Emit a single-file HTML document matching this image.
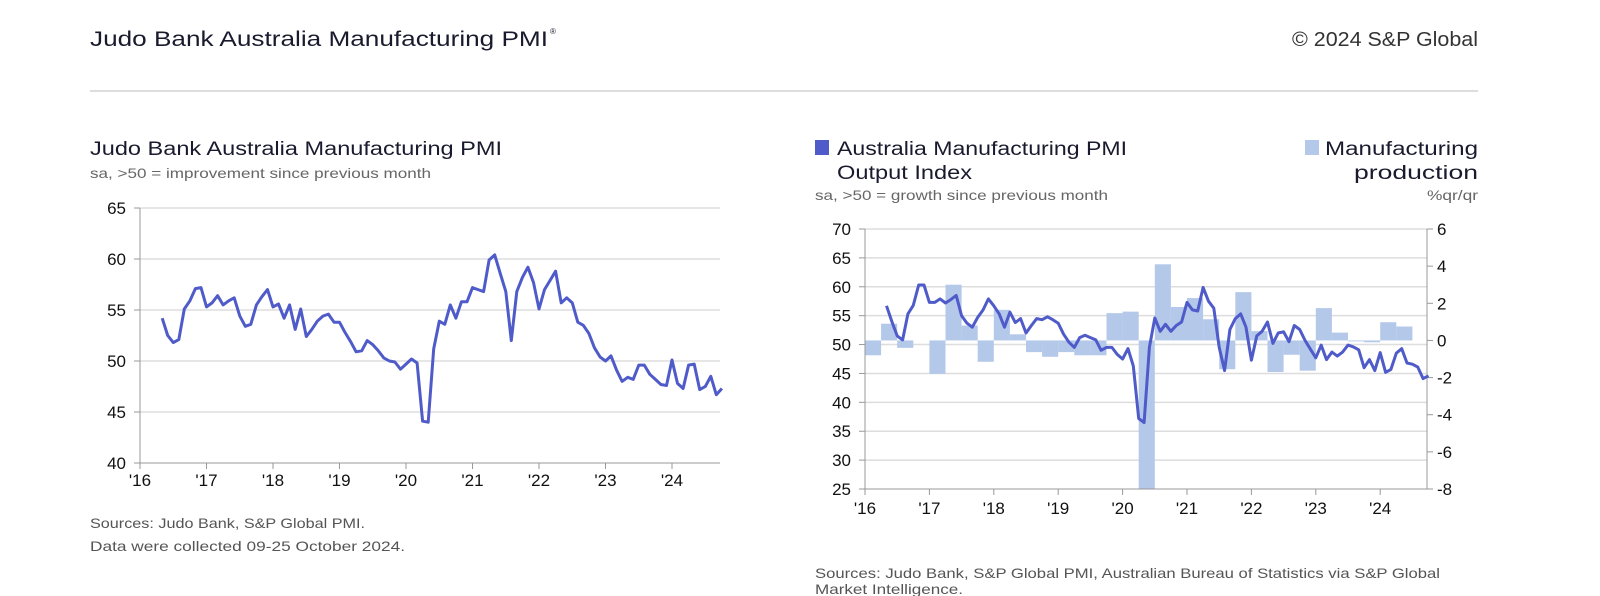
<!DOCTYPE html>
<html><head><meta charset="utf-8"><style>
body{margin:0;background:#fff;}
svg{display:block;font-family:"Liberation Sans",sans-serif;}
</style></head><body>
<svg id="s" width="1600" height="596" xmlns="http://www.w3.org/2000/svg">
<rect width="1600" height="596" fill="#fff"/>
<text x="90" y="46" font-size="21" fill="#1a1a2e" textLength="458" lengthAdjust="spacingAndGlyphs">Judo Bank Australia Manufacturing PMI</text>
<text x="550" y="34" font-size="8" fill="#1a1a2e">®</text>
<text x="1292" y="46" font-size="20" fill="#333" textLength="186" lengthAdjust="spacingAndGlyphs">© 2024 S&amp;P Global</text>
<line x1="90" y1="91" x2="1478" y2="91" stroke="#bbb" stroke-width="1"/>
<text x="90" y="155" font-size="19" fill="#1a1a2e" textLength="412" lengthAdjust="spacingAndGlyphs">Judo Bank Australia Manufacturing PMI</text>
<text x="90" y="178" font-size="14" fill="#666" textLength="341" lengthAdjust="spacingAndGlyphs">sa, &gt;50 = improvement since previous month</text>
<text x="90" y="528" font-size="14" fill="#555" textLength="275" lengthAdjust="spacingAndGlyphs">Sources: Judo Bank, S&amp;P Global PMI.</text>
<text x="90" y="551" font-size="14" fill="#555" textLength="315" lengthAdjust="spacingAndGlyphs">Data were collected 09-25 October 2024.</text>
<rect x="815" y="140" width="14" height="15" fill="#4f5bc9"/>
<text x="837" y="155" font-size="19" fill="#1a1a2e" textLength="290" lengthAdjust="spacingAndGlyphs">Australia Manufacturing PMI</text>
<text x="837" y="179" font-size="19" fill="#1a1a2e" textLength="135" lengthAdjust="spacingAndGlyphs">Output Index</text>
<rect x="1305" y="140" width="14" height="15" fill="#b4c8ea"/>
<text x="1325" y="155" font-size="19" fill="#1a1a2e" textLength="153" lengthAdjust="spacingAndGlyphs">Manufacturing</text>
<text x="1354" y="179" font-size="19" fill="#1a1a2e" textLength="124" lengthAdjust="spacingAndGlyphs">production</text>
<text x="815" y="200" font-size="14" fill="#666" textLength="293" lengthAdjust="spacingAndGlyphs">sa, &gt;50 = growth since previous month</text>
<text x="1427" y="200" font-size="14" fill="#666" textLength="51" lengthAdjust="spacingAndGlyphs">%qr/qr</text>
<text x="815" y="578" font-size="14" fill="#555" textLength="625" lengthAdjust="spacingAndGlyphs">Sources: Judo Bank, S&amp;P Global PMI, Australian Bureau of Statistics via S&amp;P Global</text>
<text x="815" y="594" font-size="14" fill="#555" textLength="148" lengthAdjust="spacingAndGlyphs">Market Intelligence.</text>
<g id="g"></g>
</svg>
<script>
var NS="http://www.w3.org/2000/svg",g=document.getElementById('g');
function el(t,a,txt){var e=document.createElementNS(NS,t);for(var k in a)e.setAttribute(k,a[k]);if(txt!=null)e.textContent=txt;g.appendChild(e);return e;}
var yrs=["'16","'17","'18","'19","'20","'21","'22","'23","'24"];
var L={x0:140,x1:720,yTop:208,yBot:463,yw:66.5};
function ly(v){return L.yBot-(v-40)/25*(L.yBot-L.yTop);}
for(var v=40;v<=65;v+=5){var y=ly(v);if(v>40)el('line',{x1:140,y1:y,x2:720,y2:y,stroke:'#ddd','stroke-width':1.5});el('line',{x1:134,y1:y,x2:140,y2:y,stroke:'#999'});el('text',{x:126,y:y+6,'font-size':17,'text-anchor':'end',fill:'#111'},v);}
el('line',{x1:140,y1:208,x2:140,y2:463,stroke:'#999'});el('line',{x1:140,y1:463,x2:720,y2:463,stroke:'#999'});
for(var i=0;i<9;i++){var x=140+i*L.yw;el('line',{x1:x,y1:463,x2:x,y2:469,stroke:'#999'});el('text',{x:x,y:486,'font-size':17,'text-anchor':'middle',fill:'#111'},yrs[i]);}
var ld=[54.2,52.5,51.8,52.1,55.1,55.9,57.1,57.2,
55.3,55.7,56.4,55.5,55.9,56.2,54.4,53.4,53.6,55.5,56.3,57.0,
55.3,55.6,54.2,55.5,53.1,55.1,52.4,53.1,53.9,54.4,54.6,53.8,
53.8,52.8,51.9,50.9,51.0,52.0,51.6,51.0,50.3,50.0,49.9,49.2,
49.7,50.2,49.8,44.1,44.0,51.2,53.9,53.6,55.5,54.2,55.8,55.8,
57.2,57.0,56.8,59.9,60.4,58.6,56.8,52.0,56.8,58.2,59.2,57.7,
55.1,57.0,57.9,58.8,55.7,56.2,55.7,53.8,53.5,52.7,51.3,50.4,
50.0,50.5,49.1,48.0,48.4,48.2,49.6,49.6,48.7,48.2,47.7,47.6,
50.1,47.8,47.3,49.6,49.7,47.2,47.5,48.5,46.7,47.3];
var p="";for(var i=0;i<ld.length;i++){var x=140+(4+i)*L.yw/12;p+=(i?"L":"M")+x.toFixed(1)+","+ly(ld[i]).toFixed(1);}
el('path',{d:p,fill:'none',stroke:'#4f5bc9','stroke-width':3,'stroke-linejoin':'round'});
var R={x0:865,x1:1427,yTop:229,yBot:489,yw:64.4};
function ry(v){return R.yBot-(v-25)/45*(R.yBot-R.yTop);}
function rz(v){return R.yBot-(v+8)/14*(R.yBot-R.yTop);}
for(var v=25;v<=70;v+=5){var y=ry(v);if(v>25)el('line',{x1:865,y1:y,x2:1427,y2:y,stroke:'#ddd','stroke-width':1.5});el('line',{x1:859,y1:y,x2:865,y2:y,stroke:'#999'});el('text',{x:851,y:y+6,'font-size':17,'text-anchor':'end',fill:'#111'},v);}
for(var v=-8;v<=6;v+=2){var y=rz(v);el('line',{x1:1427,y1:y,x2:1433,y2:y,stroke:'#999'});el('text',{x:1437,y:y+6,'font-size':17,fill:'#111'},v);}
var bars=[-0.8,0.9,-0.4,0,-1.8,3.0,0.8,-1.15,1.65,0.33,-0.63,-0.88,-0.63,-0.8,-0.8,1.47,1.55,-9,4.1,1.8,2.28,1.14,-1.55,2.6,0.5,-1.7,-0.77,-1.63,1.74,0.42,-0.05,-0.1,0.98,0.75];
var z=rz(0);
for(var i=0;i<bars.length;i++){var b=bars[i];if(!b)continue;var xa=865+i*R.yw/4,yb=Math.max(R.yTop,Math.min(R.yBot,rz(b)));el('rect',{x:xa,y:Math.min(z,yb),width:R.yw/4,height:Math.abs(yb-z),fill:'#b4c8ea'});}
el('line',{x1:865,y1:229,x2:865,y2:489,stroke:'#999'});el('line',{x1:1427,y1:229,x2:1427,y2:489,stroke:'#999'});el('line',{x1:865,y1:489,x2:1427,y2:489,stroke:'#999'});
for(var i=0;i<9;i++){var x=865+i*R.yw;el('line',{x1:x,y1:489,x2:x,y2:495,stroke:'#999'});el('text',{x:x,y:514,'font-size':17,'text-anchor':'middle',fill:'#111'},yrs[i]);}
var rd=[56.7,54,51.5,50.8,55.3,56.8,60.3,60.3,
57.3,57.3,57.9,57.2,57.8,58.5,55,53.7,53,54.7,56,57.9,
56.7,55.3,53,55.6,53.8,54.5,52,53.3,54.5,54.3,54.8,54.3,
53.7,51.8,50.4,49.5,51.2,51.6,51.2,50.8,49,49.5,49.5,48.3,
47.5,49.3,46.3,37.2,36.5,49.5,54.6,52.3,53.5,52.3,53.3,53.9,
57.3,56,55.8,59.9,57.5,56.3,49.5,45.5,52.6,54.5,55.3,53,
47.3,51.5,52.3,53.9,50.2,52,52.2,50.5,53.3,52.6,50.7,49.2,
47.7,49.9,47.4,48.7,48,48.7,49.9,49.6,49.1,46,47.4,45.5,
48.6,45.2,45.7,48.5,49.3,46.8,46.6,46.1,44.1,44.6];
p="";for(var i=0;i<rd.length;i++){var x=865+(4+i)*R.yw/12;p+=(i?"L":"M")+x.toFixed(1)+","+ry(rd[i]).toFixed(1);}
el('path',{d:p,fill:'none',stroke:'#4f5bc9','stroke-width':3,'stroke-linejoin':'round'});
</script>
</body></html>
